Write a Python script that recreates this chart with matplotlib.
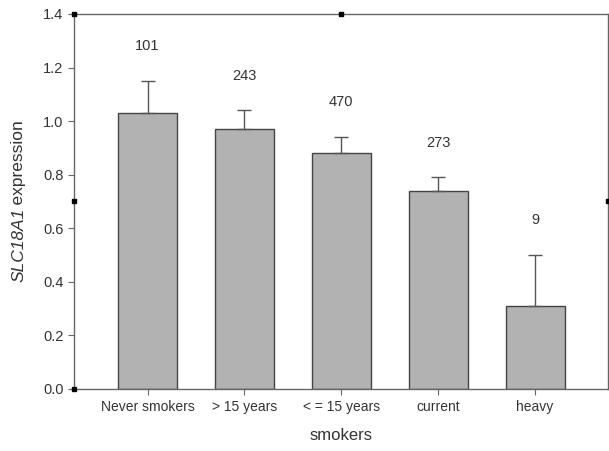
import matplotlib
matplotlib.use("Agg")
import matplotlib.pyplot as plt

categories = ["Never smokers", "> 15 years", "< = 15 years", "current", "heavy"]
means = [1.03, 0.97, 0.88, 0.74, 0.31]
err_up = [0.12, 0.07, 0.06, 0.05, 0.19]
counts = ["101", "243", "470", "273", "9"]
yticks = [0.0, 0.2, 0.4, 0.6, 0.8, 1.0, 1.2, 1.4]

plt.rcParams['font.family'] = ['Liberation Sans', 'DejaVu Sans']
fig = plt.figure(figsize=(6.09, 4.51), dpi=100)
ax = fig.add_axes([0.1215, 0.1375, 0.8765, 0.8315])

text_c = "#333333"
spine_c = "#666666"
x = list(range(len(categories)))
ax.bar(x, means, width=0.61, color="#b2b2b2", edgecolor="#444444", linewidth=1.0, zorder=2)
ax.errorbar(x, means, yerr=[[0]*len(means), err_up], fmt="none", ecolor="#555555",
            elinewidth=1.0, capsize=5, capthick=1.0, zorder=3)
for xi, m, e, c in zip(x, means, err_up, counts):
    ax.annotate(c, (xi, m + e), xytext=(0, 25), textcoords="offset points",
                ha="center", va="center", fontsize=10.5, color=text_c)

ax.set_xlim(-0.76, 4.75)
ax.set_ylim(0, 1.4)
ax.set_yticks(yticks)
ax.set_yticklabels([f"{v:.1f}" for v in yticks])
ax.set_xticks(x)
ax.set_xticklabels(categories)
for s in ax.spines.values():
    s.set_color(spine_c)
    s.set_linewidth(1.0)
ax.tick_params(axis="both", direction="out", length=4, width=0.8, color=spine_c,
               labelcolor=text_c, labelsize=10.5)
ax.tick_params(axis="x", labelsize=10, pad=4)
ax.set_xlabel("smokers", fontsize=12, color=text_c, labelpad=10)

# y label: italic gene name + regular word, placed as two rotated texts
r = fig.canvas.get_renderer()
t1 = fig.text(0, 0, "SLC18A1", rotation=90, fontsize=12.5, style="italic",
              color=text_c, ha="center", va="bottom")
t2 = fig.text(0, 0, "\u2009expression", rotation=90, fontsize=12.5,
              color=text_c, ha="center", va="bottom")
b1 = t1.get_window_extent(r)
b2 = t2.get_window_extent(r)
H = fig.bbox.height
total = b1.height + b2.height
xc = 19 / fig.bbox.width
y_mid = (451 - 201) / H
y0 = y_mid - total / 2 / H
t1.set_position((xc, y0))
t2.set_position((xc, y0 + b1.height / H))

# small black marks on the original frame
for px, py in [(0, 0.5), (1, 0.5), (0.5, 1), (0, 0), (0, 1)]:
    ax.plot(px, py, marker="s", markersize=2.2, color="black", transform=ax.transAxes,
            clip_on=False, zorder=5)

fig.savefig("out.png", dpi=100)
